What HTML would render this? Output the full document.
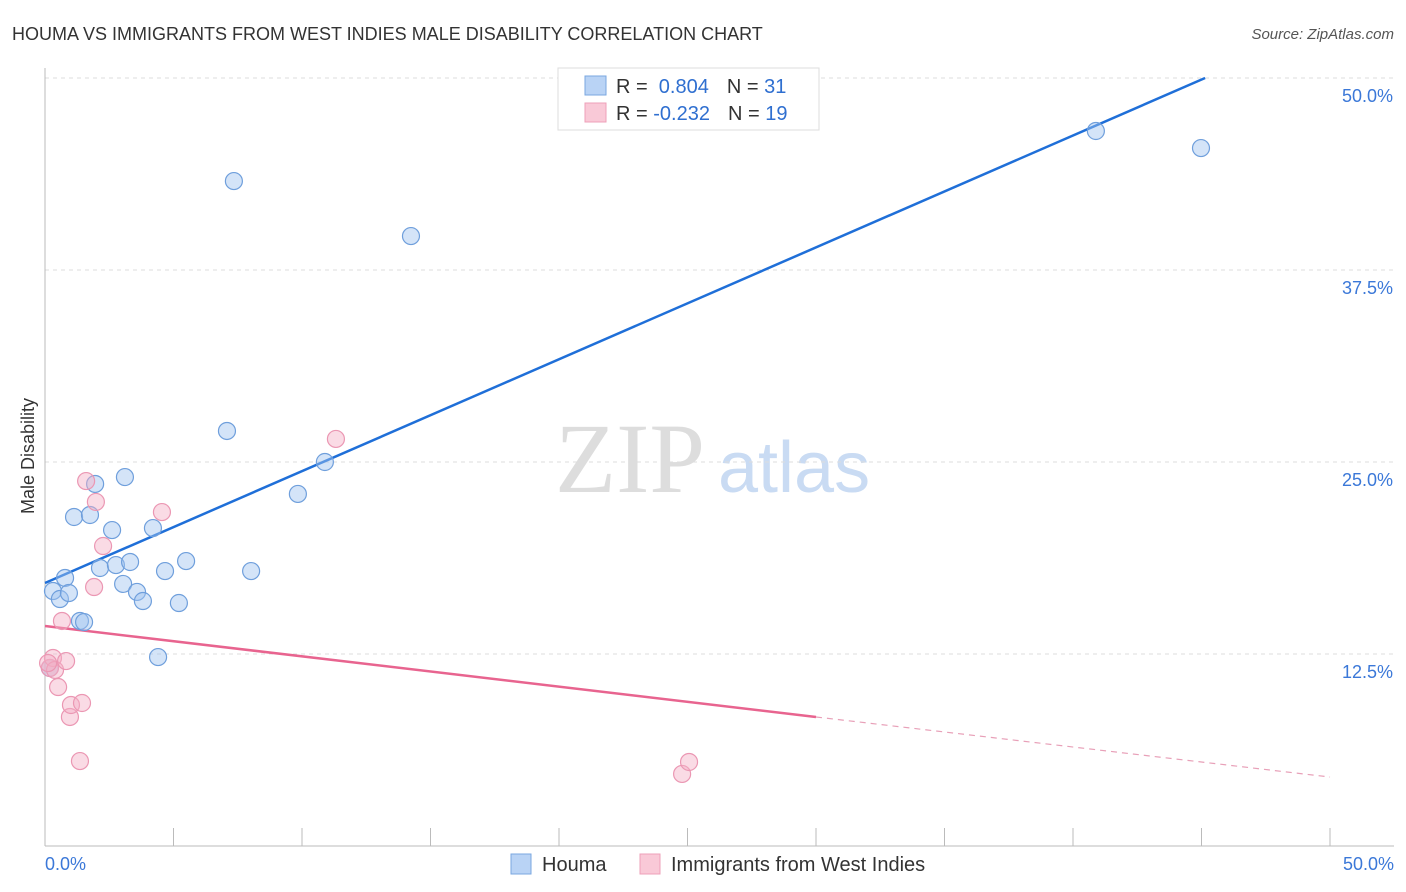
<!DOCTYPE html>
<html><head><meta charset="utf-8"><style>
body{margin:0;background:#fff;font-family:"Liberation Sans",sans-serif;}
svg{display:block}
</style></head><body>
<svg id="chart" width="1406" height="892">
<text x="12" y="40" font-size="18" fill="#333">HOUMA VS IMMIGRANTS FROM WEST INDIES MALE DISABILITY CORRELATION CHART</text>
<text x="1394" y="39" font-size="15" fill="#555" font-style="italic" text-anchor="end">Source: ZipAtlas.com</text>
<text x="34" y="456" font-size="18" fill="#333" text-anchor="middle" transform="rotate(-90 34 456)">Male Disability</text>
<text x="555" y="492" font-size="100" fill="#ddd" font-family="Liberation Serif,serif">ZIP</text>
<text x="718" y="492" font-size="72" fill="#c9dbf3">atlas</text>
<g id="grid"></g><g id="axes"></g><g id="lines"></g><g id="pts"></g>
<g>
<rect x="558" y="68" width="261" height="62" fill="#fff" stroke="#ddd"/>
<rect x="585" y="76" width="21" height="19" fill="#b9d3f5" stroke="#7aa7e0"/>
<text x="616" y="93" font-size="20" fill="#333">R = <tspan fill="#2f6fd0">&#160;0.804</tspan><tspan dx="18">N = </tspan><tspan fill="#2f6fd0">31</tspan></text>
<rect x="585" y="103" width="21" height="19" fill="#f9c9d7" stroke="#eea0b8"/>
<text x="616" y="120" font-size="20" fill="#333">R = <tspan fill="#2f6fd0">-0.232</tspan><tspan dx="18">N = </tspan><tspan fill="#2f6fd0">19</tspan></text>
</g>
<g>
<rect x="511" y="854" width="20" height="20" fill="#b9d3f5" stroke="#7aa7e0"/>
<text x="542" y="871" font-size="20" fill="#333">Houma</text>
<rect x="640" y="854" width="20" height="20" fill="#f9c9d7" stroke="#eea0b8"/>
<text x="671" y="871" font-size="20" fill="#333">Immigrants from West Indies</text>
</g>
</svg>
<script>
const blueX=[0.31,0.58,0.78,0.93,1.13,1.36,1.52,1.75,1.95,2.14,2.61,2.76,3.04,3.11,3.31,3.58,3.81,4.20,4.40,4.67,5.21,5.49,7.08,7.35,8.02,9.84,10.89,14.24,40.89,44.98,0.19];
const blueY=[16.60,16.08,17.45,16.47,21.42,14.65,14.58,21.55,23.57,18.10,20.57,18.29,17.06,24.02,18.49,16.54,15.95,20.70,12.30,17.90,15.82,18.55,27.02,43.29,17.90,22.92,25.00,39.71,46.55,45.44,11.59];
const pinkX=[0.19,0.31,0.39,0.51,0.66,0.82,0.97,1.01,1.36,1.44,1.60,1.91,1.98,2.26,4.55,11.32,24.79,25.06,0.12];
const pinkY=[11.59,12.24,11.46,10.35,14.65,12.04,8.40,9.18,5.53,9.31,23.76,16.86,22.40,19.53,21.74,26.50,4.69,5.47,11.91];
const yTicks=[12.5,25,37.5,50];
const blueLine=[17.12,0.804*0+50]; // intercept, y at x=45.14
const blueFit={x0:0,y0:17.12,x1:45.14,y1:50};
const pinkFit={x0:0,y0:14.32,x1:30,y1:8.40,x2:50,y2:4.49};
const NS='http://www.w3.org/2000/svg';
const sx=v=>45+v*25.7, sy=v=>846-v*15.36;
function mk(t,a,p){const e=document.createElementNS(NS,t);for(const k in a)e.setAttribute(k,a[k]);document.getElementById(p).appendChild(e);return e;}
yTicks.forEach(t=>{
 const g=mk('line',{x1:45,x2:1394,y1:sy(t),y2:sy(t),stroke:'#ddd','stroke-dasharray':'4,4'},'grid');
 
 
 const l=mk('text',{x:1393,y:sy(t)+24,'font-size':18,fill:'#3b78d8','text-anchor':'end'},'grid');
 l.textContent=t.toFixed(1)+'%';
 
 
});
mk('line',{x1:45,x2:45,y1:68,y2:846,stroke:'#bbb'},'axes');
mk('line',{x1:45,x2:1394,y1:846,y2:846,stroke:'#bbb'},'axes');
for(let i=0;i<=10;i++){mk('line',{x1:sx(i*5),x2:sx(i*5),y1:828,y2:846,stroke:'#bbb'},'axes');}
const xl0=mk('text',{x:45,y:870,'font-size':18,fill:'#3b78d8'},'axes');xl0.textContent='0.0%';


const xl1=mk('text',{x:1394,y:870,'font-size':18,fill:'#3b78d8','text-anchor':'end'},'axes');xl1.textContent='50.0%';


const bl=mk('line',{x1:sx(blueFit.x0),y1:sy(blueFit.y0),x2:sx(blueFit.x1),y2:sy(blueFit.y1),stroke:'#1f6fd8','stroke-width':2.5},'lines');


const pl=mk('line',{x1:sx(pinkFit.x0),y1:sy(pinkFit.y0),x2:sx(pinkFit.x1),y2:sy(pinkFit.y1),stroke:'#e8648f','stroke-width':2.5},'lines');


const pd=mk('line',{x1:sx(pinkFit.x1),y1:sy(pinkFit.y1),x2:sx(pinkFit.x2),y2:sy(pinkFit.y2),stroke:'#e8a0b8','stroke-width':1.2,'stroke-dasharray':'6,5'},'lines');


blueX.forEach((x,i)=>{const c=mk('circle',{cx:sx(x),cy:sy(blueY[i]),r:8.5,fill:'rgba(160,196,240,0.45)',stroke:'#6f9fdc','stroke-width':1.2},'pts');
 
 });
pinkX.forEach((x,i)=>{const c=mk('circle',{cx:sx(x),cy:sy(pinkY[i]),r:8.5,fill:'rgba(245,175,198,0.45)',stroke:'#eb97b3','stroke-width':1.2},'pts');
 
 });
</script>
</body></html>
